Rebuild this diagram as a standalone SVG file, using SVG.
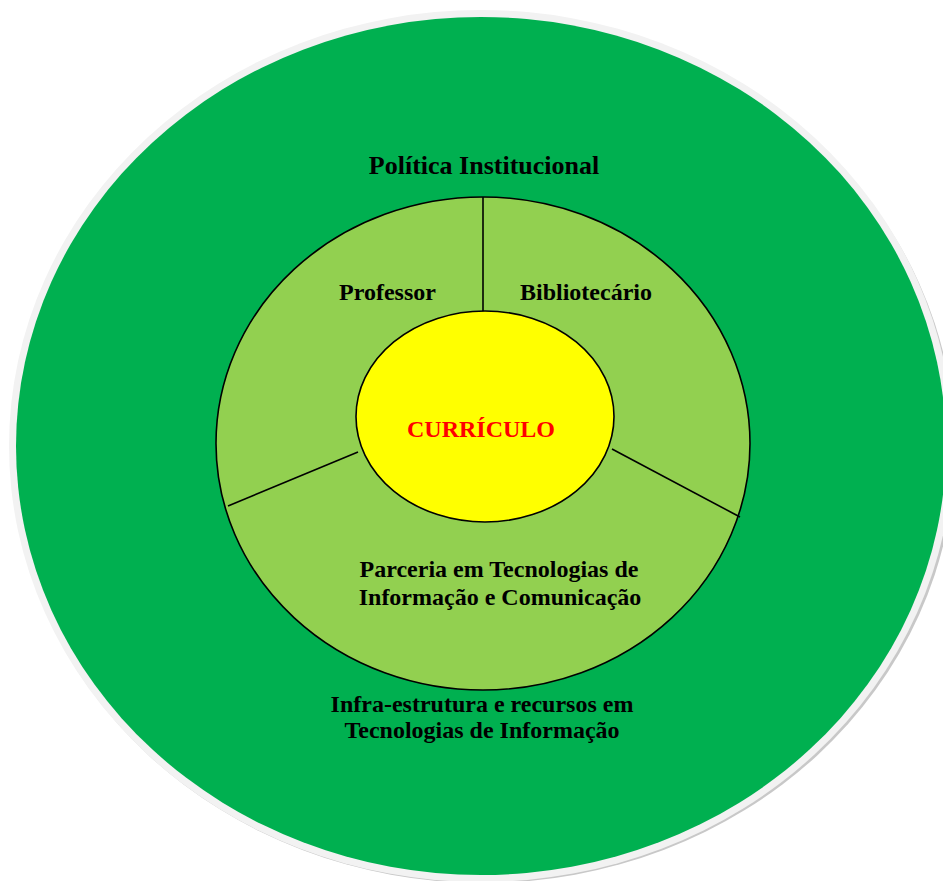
<svg xmlns="http://www.w3.org/2000/svg" width="943" height="881" viewBox="0 0 943 881">
  <defs>
    <style>
      .lbl { font-family: "Liberation Serif", "Times New Roman", serif; font-weight: bold; font-size: 24px; fill: #000; }
      .ring { stroke: #000; stroke-width: 1.6; }
      .div { stroke: #000; stroke-width: 1.6; fill: none; }
    </style>
  </defs>
  <rect width="943" height="881" fill="#ffffff"/>
  <g id="outer">
    <ellipse cx="483" cy="449" rx="472" ry="434" fill="#c8c8c8"/>
    <ellipse cx="481" cy="446" rx="472" ry="436" fill="#f2f2f2"/>
    <ellipse cx="481" cy="446" rx="465" ry="429" fill="#00b050"/>
    <text class="lbl" x="484" y="174" text-anchor="middle" style="font-size:26px">Política Institucional</text>
    <text class="lbl" x="482" y="712" text-anchor="middle">Infra-estrutura e recursos em</text>
    <text class="lbl" x="482" y="738" text-anchor="middle">Tecnologias de Informação</text>
  </g>
  <g id="middle">
    <ellipse class="ring" cx="483" cy="443.5" rx="267" ry="246.5" fill="#92d050"/>
  </g>
  <g id="dividers">
    <line class="div" x1="483" y1="197" x2="483" y2="312"/>
    <line class="div" x1="228" y1="506" x2="358" y2="452"/>
    <line class="div" x1="612" y1="449" x2="740" y2="517"/>
  </g>
  <g id="professor">
    <text class="lbl" x="387.5" y="299.5" text-anchor="middle">Professor</text>
  </g>
  <g id="bibliotecario">
    <text class="lbl" x="586" y="299.5" text-anchor="middle">Bibliotecário</text>
  </g>
  <g id="parceria">
    <text class="lbl" x="499" y="577" text-anchor="middle">Parceria em Tecnologias de</text>
    <text class="lbl" x="500" y="605" text-anchor="middle">Informação e Comunicação</text>
  </g>
  <g id="curriculo">
    <ellipse class="ring" cx="485" cy="416.5" rx="129" ry="105.5" fill="#ffff00"/>
    <text class="lbl" x="481" y="437" text-anchor="middle" style="fill:#ff0000">CURRÍCULO</text>
  </g>
</svg>
